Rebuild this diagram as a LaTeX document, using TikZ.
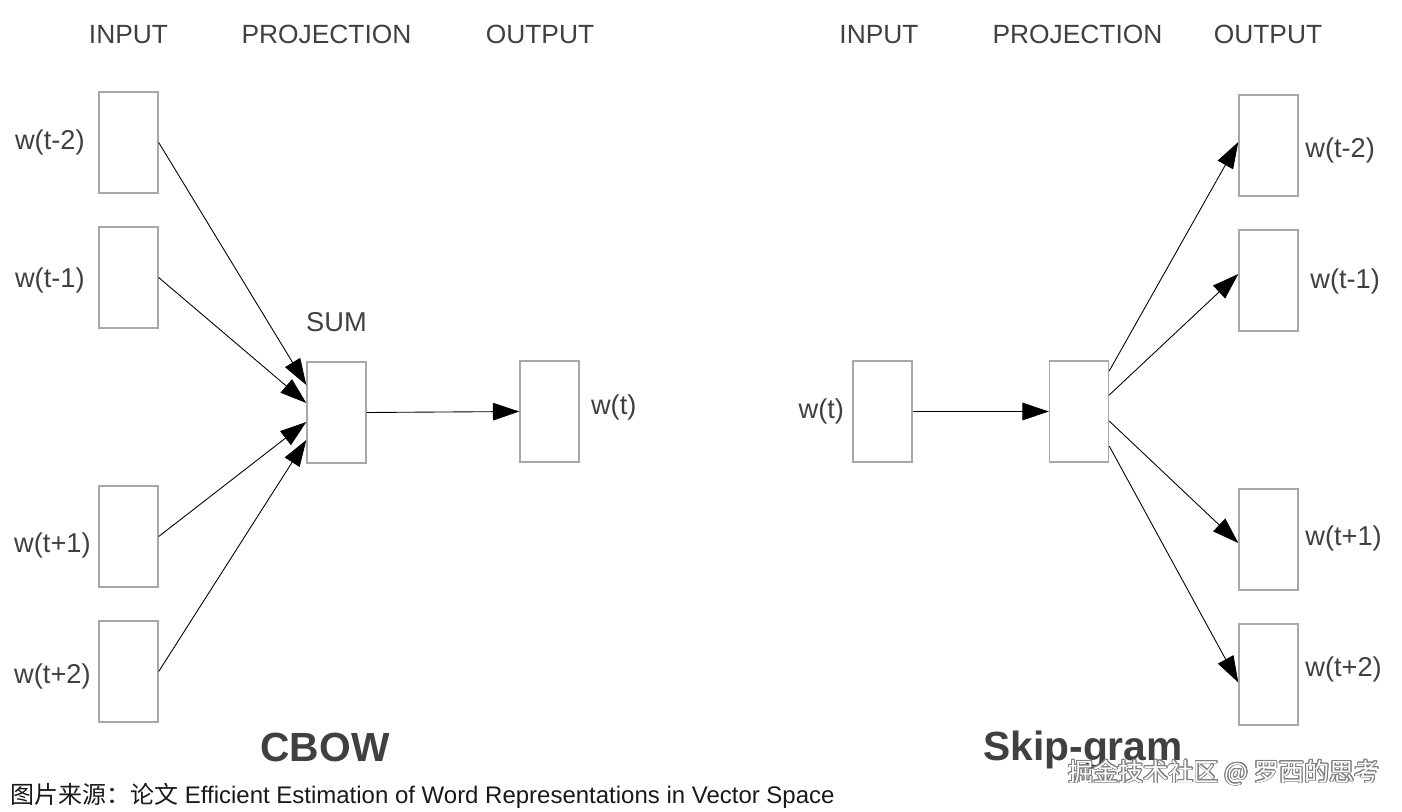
\documentclass[tikz,border=0pt]{standalone}
\usepackage{fontspec}
\setmainfont{Liberation Sans}
\newfontfamily\cjk{Noto Sans CJK SC}
\usepackage[copies]{contour}
\usepackage{tikz}
\usetikzlibrary{calc, positioning, arrows.meta}
\definecolor{boxgray}{HTML}{A8A8A8}
\definecolor{txtgray}{HTML}{404040}
\contourlength{0.5pt}

\begin{document}
\begin{tikzpicture}[x=0.02cm, y=-0.02cm,
        wbox/.style={draw=boxgray, line width=0.8pt, minimum width=1.18cm, minimum height=2.02cm, inner sep=0pt},
        wlabel/.style={text=txtgray, font=\fontsize{15.5}{18}\selectfont, inner sep=0pt},
        head/.style={text=txtgray, font=\fontsize{15}{18}\selectfont, inner sep=0pt, anchor=base},
        title/.style={text=txtgray, font=\fontsize{23.2}{26}\selectfont\bfseries, inner sep=0pt, anchor=base},
        arr/.style={line width=0.5pt, -{Triangle[length=15pt, width=10pt]}}]
            \useasboundingbox (0,0) rectangle (1402,811);

            \node[head] (hin) at (128.5,44) {INPUT};
            \node[head] (hproj) at (326.5,44) {PROJECTION};
            \node[head] (hout) at (540,44) {OUTPUT};
            \node[head] (shin) at (879,44) {INPUT};
            \node[head] (shproj) at (1077.5,44) {PROJECTION};
            \node[head] (shout) at (1268,44) {OUTPUT};

            \node[wbox] (in1) at (128.5,142.5) {};
            \node[wbox] (in2) at (128.5,277.5) {};
            \node[wbox] (in3) at (128.5,536.5) {};
            \node[wbox] (in4) at (128.5,671.5) {};
            \node[wlabel, anchor=east] (lin1) at (85,142) {w(t-2)};
            \node[wlabel, anchor=east] (lin2) at (85,280) {w(t-1)};
            \node[wlabel, anchor=east] (lin3) at (91,545) {w(t+1)};
            \node[wlabel, anchor=east] (lin4) at (91,676) {w(t+2)};

            \node[wbox] (sum) at (336.5,412.5) {};
            \node[wlabel, above=0.58cm of sum] (lsum) {SUM};
            \node[wbox] (out) at (549.5,411.5) {};
            \node[wlabel, right=0.22cm of out, yshift=0.08cm] (lout) {w(t)};

            \draw[arr] (in1.east) -- ($(sum.west)+(0,-27.5)$);
            \draw[arr] (in2.east) -- ($(sum.west)+(0,-9.5)$);
            \draw[arr] (in3.east) -- ($(sum.west)+(0,9.5)$);
            \draw[arr] (in4.east) -- ($(sum.west)+(0,27.5)$);
            \draw[arr] (sum.east) -- (out.west);

            \node[title] (cbow) at (325,761) {CBOW};

            \node[wbox] (sin) at (882.5,411.5) {};
            \node[wlabel, left=0.16cm of sin] (lsin) {w(t)};
            \node[wbox] (proj) at (1079,411.5) {};
            \node[wbox] (so1) at (1268.5,145.5) {};
            \node[wbox] (so2) at (1268.5,280.5) {};
            \node[wbox] (so3) at (1268.5,539.5) {};
            \node[wbox] (so4) at (1268.5,674.5) {};
            \node[wlabel, anchor=west] (lso1) at (1305,150) {w(t-2)};
            \node[wlabel, anchor=west] (lso2) at (1310,281) {w(t-1)};
            \node[wlabel, anchor=west] (lso3) at (1305,538) {w(t+1)};
            \node[wlabel, anchor=west] (lso4) at (1305,669) {w(t+2)};

            \draw[arr] (sin.east) -- (proj.west);
            \draw[arr] ($(proj.east)+(0,-40.5)$) -- ($(so1.west)+(0,-3.5)$);
            \draw[arr] ($(proj.east)+(0,-16.5)$) -- ($(so2.west)+(0,-6.5)$);
            \draw[arr] ($(proj.east)+(0,9.5)$) -- ($(so3.west)+(0,3.5)$);
            \draw[arr] ($(proj.east)+(0,34.5)$) -- ($(so4.west)+(0,8)$);

            \node[title] (skip) at (1083,760) {Skip-gram};

            \node[anchor=west, inner sep=0pt, text=white, font=\fontsize{14.3}{16}\selectfont] (mark) at (1068,773) {\contour{gray}{\cjk 掘金技术社区 @ 罗西的思考}};
            \node[anchor=west, inner sep=0pt, text=black!90, font=\fontsize{13.65}{16}\selectfont] (src) at (10,796) {{\cjk 图片来源：论文} Efficient Estimation of Word Representations in Vector Space};
        \end{tikzpicture}
\end{document}
